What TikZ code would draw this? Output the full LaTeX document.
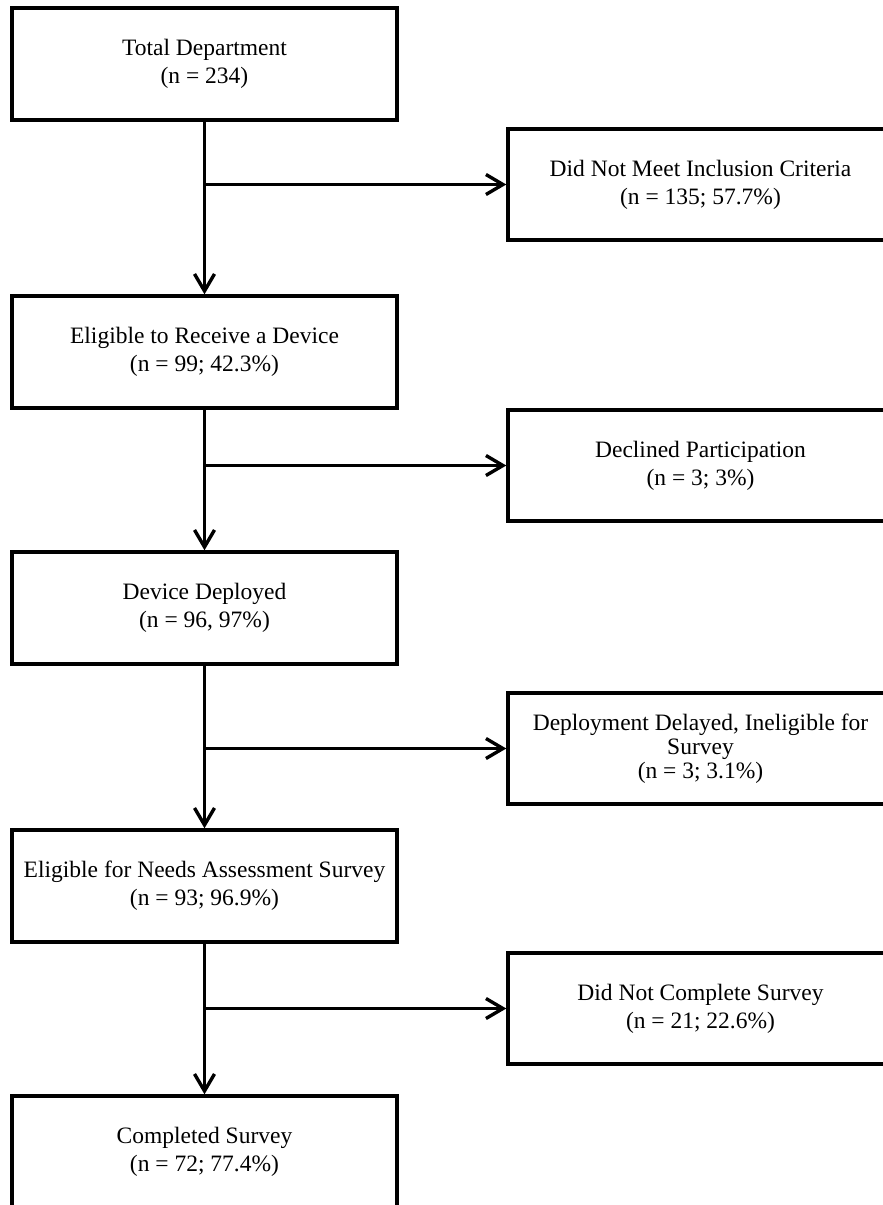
\documentclass[tikz,border=0pt]{standalone}
\usepackage{fontspec}
\setmainfont{Liberation Serif}
\usetikzlibrary{arrows.meta}
\begin{document}
\begin{tikzpicture}[x=1pt,y=-1pt,
  box/.style={draw, line width=3.4pt, minimum width=385pt, minimum height=112pt,
    align=center, inner sep=0pt, font=\fontsize{23.5pt}{28pt}\selectfont},
  sidebox/.style={box, minimum height=111pt},
  arr/.style={line width=3.4pt, -{Straight Barb[length=17pt,width=20pt]}}]
\useasboundingbox (0,0) rectangle (883,1205);
\clip (0,0) rectangle (883,1205);
% main column
\node[box] (b1) at (204.5,64)   {Total Department\\(n = 234)};
\node[box] (b2) at (204.5,352)  {Eligible to Receive a Device\\(n = 99; 42.3\%)};
\node[box] (b3) at (204.5,608)  {Device Deployed\\(n = 96, 97\%)};
\node[box] (b4) at (204.5,886)  {Eligible for Needs Assessment Survey\\(n = 93; 96.9\%)};
\node[box] (b5) at (204.5,1152) {Completed Survey\\(n = 72; 77.4\%)};
% side boxes
\node[sidebox] (r1) at (700.5,184.5)  {Did Not Meet Inclusion Criteria\\(n = 135; 57.7\%)};
\node[sidebox] (r2) at (700.5,465.5)  {Declined Participation\\(n = 3; 3\%)};
\node[sidebox, font=\fontsize{23.5pt}{24pt}\selectfont] (r3) at (700.5,748.5)  {Deployment Delayed, Ineligible for\\Survey\\(n = 3; 3.1\%)};
\node[sidebox] (r4) at (700.5,1008.5) {Did Not Complete Survey\\(n = 21; 22.6\%)};
% junctions
\coordinate (j1) at (b1.south |- r1.west);
\coordinate (j2) at (b2.south |- r2.west);
\coordinate (j3) at (b3.south |- r3.west);
\coordinate (j4) at (b4.south |- r4.west);
% connectors
\draw[arr] (b1.south) -- (b2.north);
\draw[arr] (b2.south) -- (b3.north);
\draw[arr] (b3.south) -- (b4.north);
\draw[arr] (b4.south) -- (b5.north);
\draw[arr] (j1) -- (r1.west);
\draw[arr] (j2) -- (r2.west);
\draw[arr] (j3) -- (r3.west);
\draw[arr] (j4) -- (r4.west);
\end{tikzpicture}
\end{document}
